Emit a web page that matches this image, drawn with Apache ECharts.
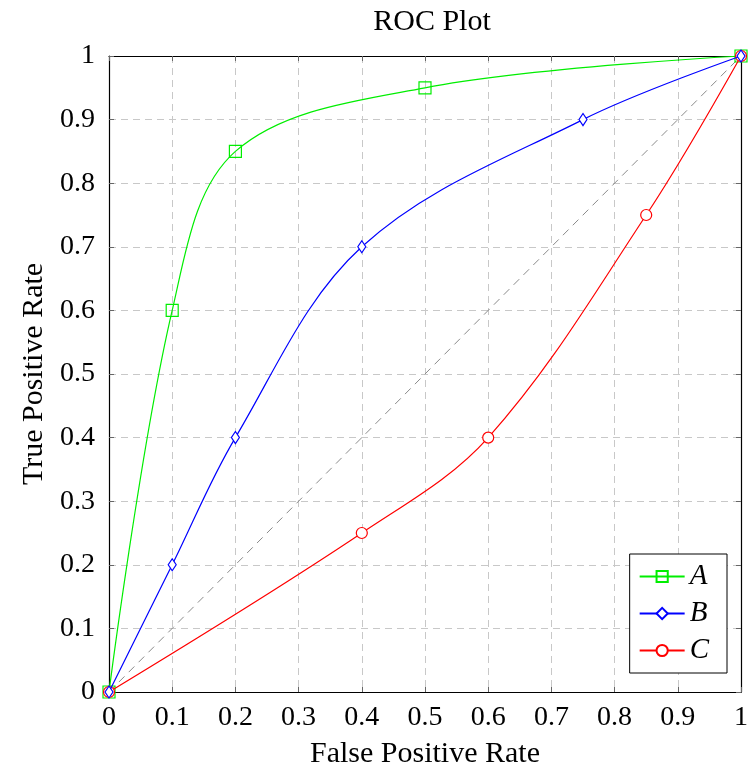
<!DOCTYPE html>
<html>
<head>
<meta charset="utf-8">
<script src="https://cdn.jsdelivr.net/npm/echarts@6/dist/echarts.min.js"></script>
<style>
  html, body { margin: 0; padding: 0; background: #fff; }
  #chart { width: 751px; height: 774px; }
</style>
</head>
<body>
<div id="chart"></div>
<script>
// ROC curves for three classifiers, plus the chance diagonal
const fprA = [0, 0.1, 0.2, 0.5, 1];
const tprA = [0, 0.6, 0.85, 0.95, 1];
const fprB = [0, 0.1, 0.2, 0.4, 0.75, 1];
const tprB = [0, 0.2, 0.4, 0.7, 0.9, 1];
const fprC = [0, 0.4, 0.6, 0.85, 1];
const tprC = [0, 0.25, 0.4, 0.75, 1];
const chanceX = [0, 1];
const chanceY = [0, 1];

const FONT = 'Liberation Serif';
const pairs = (xs, ys) => xs.map((x, i) => [x, ys[i]]);
const fmt = v => (v === 0 || v === 1) ? String(v) : v.toFixed(1);

const chart = echarts.init(document.getElementById('chart'));

const baseAxis = {
  type: 'value', min: 0, max: 1, interval: 0.1,
  axisLine: { show: true, onZero: false, lineStyle: { color: '#000', width: 1.2 } },
  axisTick: { show: true, inside: true, length: 5, lineStyle: { color: '#666' } },
};
const gridLine = { show: true, lineStyle: { color: '#c8c8c8', type: [7, 5], width: 1 } };

chart.setOption({
  animation: false,
  title: {
    text: 'ROC Plot', left: 427, top: 2, textAlign: 'center',
    textStyle: { fontFamily: FONT, fontWeight: 'normal', fontSize: 30, color: '#000' }
  },
  grid: { left: 109, right: 5, top: 56, bottom: 82 },
  legend: {
    right: 24, bottom: 101, orient: 'vertical',
    backgroundColor: '#fff', borderColor: '#000', borderWidth: 1,
    padding: [8, 18, 8, 9], itemGap: 8, itemWidth: 45, itemHeight: 14,
    data: ['A', 'B', 'C'],
    textStyle: { fontFamily: FONT, fontStyle: 'italic', fontSize: 29, color: '#000' }
  },
  xAxis: [
    Object.assign({}, baseAxis, {
      position: 'bottom',
      name: 'False Positive Rate', nameLocation: 'middle', nameGap: 47,
      nameTextStyle: { fontFamily: FONT, fontSize: 30, color: '#000' },
      axisLabel: { fontFamily: FONT, fontSize: 28, color: '#000', margin: 12, formatter: fmt },
      splitLine: gridLine
    }),
    Object.assign({}, baseAxis, {
      position: 'top', axisLabel: { show: false }, splitLine: { show: false }
    })
  ],
  yAxis: [
    Object.assign({}, baseAxis, {
      position: 'left',
      name: 'True Positive Rate', nameLocation: 'middle', nameGap: 58,
      nameTextStyle: { fontFamily: FONT, fontSize: 30, color: '#000' },
      axisLabel: { fontFamily: FONT, fontSize: 28, color: '#000', margin: 14, formatter: fmt },
      splitLine: gridLine
    }),
    Object.assign({}, baseAxis, {
      position: 'right', axisLabel: { show: false }, splitLine: { show: false }
    })
  ],
  series: [
    {
      name: 'chance', type: 'line', data: pairs(chanceX, chanceY), showSymbol: false,
      lineStyle: { color: '#8a8a8a', type: [8, 6], width: 1 }, silent: true, z: 1
    },
    {
      name: 'C', type: 'line', data: pairs(fprC, tprC), smooth: 0.35,
      symbol: 'circle', symbolSize: 11, color: '#ff0000',
      itemStyle: { color: '#fff', borderColor: '#ff0000', borderWidth: 1.2 },
      lineStyle: { color: '#ff0000', width: 1.2 }, z: 3
    },
    {
      name: 'B', type: 'line', data: pairs(fprB, tprB), smooth: 0.35,
      symbol: 'diamond', symbolSize: [8, 12], color: '#0000ff',
      itemStyle: { color: '#fff', borderColor: '#0000ff', borderWidth: 1.2 },
      lineStyle: { color: '#0000ff', width: 1.2 }, z: 4
    },
    {
      name: 'A', type: 'line', data: pairs(fprA, tprA), smooth: 0.35,
      symbol: 'rect', symbolSize: 12, color: '#00ee00',
      itemStyle: { color: 'rgba(255,255,255,0)', borderColor: '#00ee00', borderWidth: 1.2 },
      lineStyle: { color: '#00ee00', width: 1.2 }, z: 2
    }
  ]
});
</script>
</body>
</html>
